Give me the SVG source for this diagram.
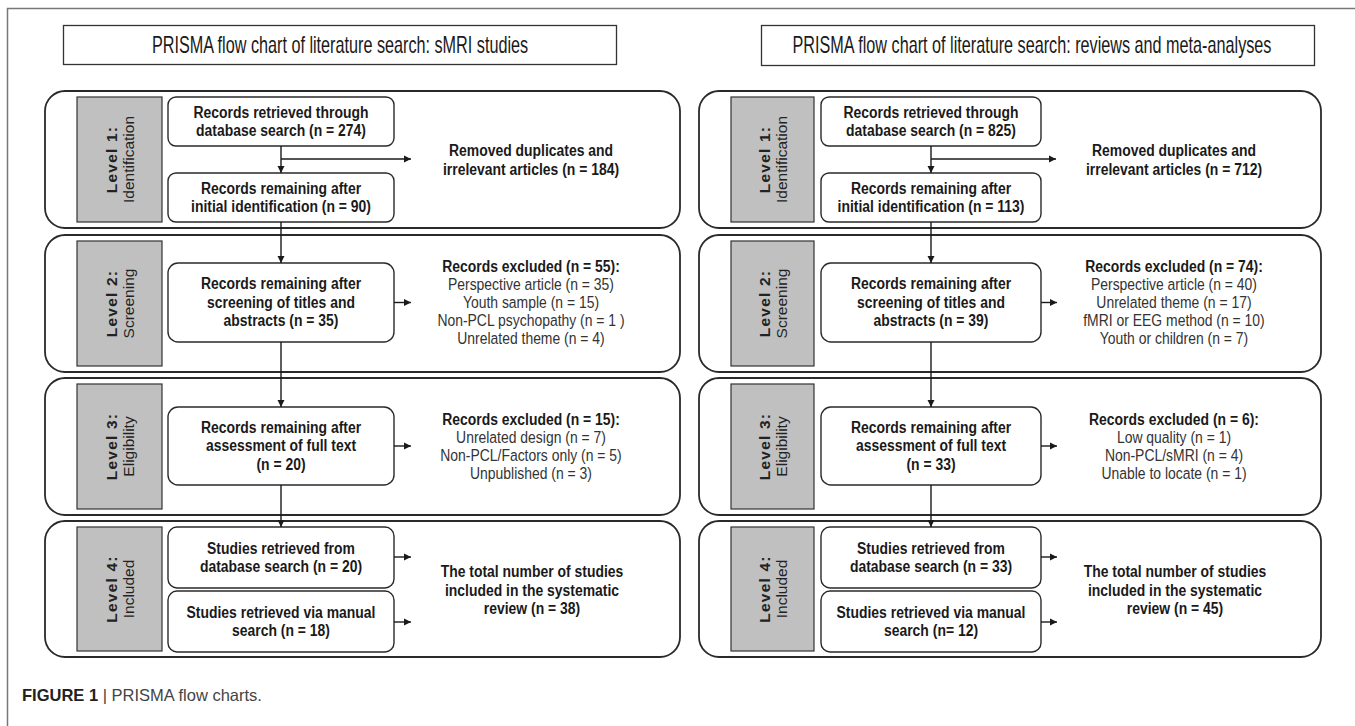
<svg xmlns="http://www.w3.org/2000/svg" width="1355" height="726" viewBox="0 0 1355 726">
<defs>
<style>
.frame{fill:none;stroke:#777;stroke-width:1.5}
.title{fill:#fff;stroke:#333;stroke-width:1.3}
.ttl{font-family:"Liberation Sans",Arial,sans-serif;font-size:23px;fill:#1a1a1a;text-anchor:middle;transform-box:fill-box;transform-origin:center;transform:scaleX(0.705)}
.lvl{fill:#fff;stroke:#2a2a2a;stroke-width:1.8}
.gray{fill:#c0c0c0;stroke:#333;stroke-width:1.2}
.node{fill:#fff;stroke:#2a2a2a;stroke-width:1.4}
.lab{font-family:"Liberation Sans",Arial,sans-serif;font-size:15.5px;fill:#222;text-anchor:middle}
.lab .b{font-weight:bold;letter-spacing:1.2px}
.nt{font-family:"Liberation Sans",Arial,sans-serif;font-weight:bold;font-size:17px;fill:#1a1a1a;text-anchor:middle;transform-box:fill-box;transform-origin:center;transform:scaleX(0.82)}
.et{font-family:"Liberation Sans",Arial,sans-serif;font-size:17px;fill:#333;text-anchor:middle;transform-box:fill-box;transform-origin:center;transform:scaleX(0.82)}
.conn{fill:none;stroke:#1a1a1a;stroke-width:1.4}
.cap{font-family:"Liberation Sans",Arial,sans-serif;font-size:16.5px;fill:#444}
</style>
<marker id="ah" markerUnits="userSpaceOnUse" markerWidth="8" markerHeight="8" refX="7" refY="4" orient="auto">
<path d="M0,0.5 L7,4 L0,7.5 z" fill="#1a1a1a"/>
</marker>
</defs>
<rect width="1355" height="726" fill="#fff"/>
<path class="frame" d="M7.5,726 V8.5 H1355"/>

<g id="title-left">
<rect class="title" x="63.5" y="25.5" width="553" height="39"/>
<text class="ttl" x="340" y="53">PRISMA flow chart of literature search: sMRI studies</text>
</g>
<g id="title-right">
<rect class="title" x="761.5" y="25.5" width="553" height="40"/>
<text class="ttl" x="1032" y="53.5">PRISMA flow chart of literature search: reviews and meta-analyses</text>
</g>

<!-- LEFT CHART -->
<g id="L-level1">
<rect class="lvl" x="45" y="91" width="635" height="137" rx="20"/>
<rect class="gray" x="77" y="97" width="85" height="125"/>
<g class="lab" transform="translate(119.5,159.5) rotate(-90)"><text class="b" x="0" y="-3">Level 1:</text><text x="0" y="14">Identification</text></g>
</g>
<g id="L-level2">
<rect class="lvl" x="45" y="235" width="635" height="137" rx="20"/>
<rect class="gray" x="77" y="241" width="85" height="125"/>
<g class="lab" transform="translate(119.5,303.5) rotate(-90)"><text class="b" x="0" y="-3">Level 2:</text><text x="0" y="14">Screening</text></g>
</g>
<g id="L-level3">
<rect class="lvl" x="45" y="378" width="635" height="137" rx="20"/>
<rect class="gray" x="77" y="384" width="85" height="125"/>
<g class="lab" transform="translate(119.5,446.5) rotate(-90)"><text class="b" x="0" y="-3">Level 3:</text><text x="0" y="14">Eligibility</text></g>
</g>
<g id="L-level4">
<rect class="lvl" x="45" y="521" width="635" height="136" rx="20"/>
<rect class="gray" x="77" y="527" width="85" height="124"/>
<g class="lab" transform="translate(119.5,589) rotate(-90)"><text class="b" x="0" y="-3">Level 4:</text><text x="0" y="14">Included</text></g>
</g>

<g id="L-n1"><rect class="node" x="168" y="97" width="226" height="49" rx="8"/>
<text class="nt" x="281" y="118">Records retrieved through</text><text class="nt" x="281" y="136.5">database search (n = 274)</text></g>
<g id="L-removed"><text class="nt" x="531" y="156.5">Removed duplicates and</text><text class="nt" x="531" y="175">irrelevant articles (n = 184)</text></g>
<g id="L-n2"><rect class="node" x="168" y="173" width="226" height="49" rx="8"/>
<text class="nt" x="281" y="194">Records remaining after</text><text class="nt" x="281" y="212.5">initial identification (n = 90)</text></g>
<g id="L-n3"><rect class="node" x="168" y="263" width="226" height="79" rx="10"/>
<text class="nt" x="281" y="289.5">Records remaining after</text><text class="nt" x="281" y="308">screening of titles and</text><text class="nt" x="281" y="326.5">abstracts (n = 35)</text></g>
<g id="L-excl2"><text class="nt" x="531" y="272.5">Records excluded (n = 55):</text>
<text class="et" x="531" y="290.5">Perspective article (n = 35)</text>
<text class="et" x="531" y="308.5">Youth sample  (n = 15)</text>
<text class="et" x="531" y="326.5">Non-PCL psychopathy (n = 1 )</text>
<text class="et" x="531" y="344.5">Unrelated theme (n = 4)</text></g>
<g id="L-n4"><rect class="node" x="168" y="407" width="226" height="78" rx="10"/>
<text class="nt" x="281" y="433">Records remaining after</text><text class="nt" x="281" y="451.5">assessment of full text</text><text class="nt" x="281" y="470">(n = 20)</text></g>
<g id="L-excl3"><text class="nt" x="531" y="425.5">Records excluded (n = 15):</text>
<text class="et" x="531" y="443.5">Unrelated design (n = 7)</text>
<text class="et" x="531" y="461.5">Non-PCL/Factors only (n = 5)</text>
<text class="et" x="531" y="479.5">Unpublished (n = 3)</text></g>
<g id="L-n5"><rect class="node" x="168" y="527" width="226" height="61" rx="9"/>
<text class="nt" x="281" y="554">Studies retrieved from</text><text class="nt" x="281" y="572.5">database search (n = 20)</text></g>
<g id="L-n6"><rect class="node" x="168" y="591" width="226" height="61" rx="9"/>
<text class="nt" x="281" y="618">Studies retrieved via manual</text><text class="nt" x="281" y="636.5">search (n = 18)</text></g>
<g id="L-total"><text class="nt" x="532" y="577.5">The total number of studies</text><text class="nt" x="532" y="596">included in the systematic</text><text class="nt" x="532" y="614.5">review (n = 38)</text></g>

<!-- RIGHT CHART -->
<g id="R-level1">
<rect class="lvl" x="699" y="91" width="622" height="137" rx="20"/>
<rect class="gray" x="731" y="97" width="83" height="125"/>
<g class="lab" transform="translate(772.5,159.5) rotate(-90)"><text class="b" x="0" y="-3">Level 1:</text><text x="0" y="14">Identification</text></g>
</g>
<g id="R-level2">
<rect class="lvl" x="699" y="235" width="622" height="137" rx="20"/>
<rect class="gray" x="731" y="241" width="83" height="125"/>
<g class="lab" transform="translate(772.5,303.5) rotate(-90)"><text class="b" x="0" y="-3">Level 2:</text><text x="0" y="14">Screening</text></g>
</g>
<g id="R-level3">
<rect class="lvl" x="699" y="378" width="622" height="137" rx="20"/>
<rect class="gray" x="731" y="384" width="83" height="125"/>
<g class="lab" transform="translate(772.5,446.5) rotate(-90)"><text class="b" x="0" y="-3">Level 3:</text><text x="0" y="14">Eligibility</text></g>
</g>
<g id="R-level4">
<rect class="lvl" x="699" y="521" width="622" height="136" rx="20"/>
<rect class="gray" x="731" y="527" width="83" height="124"/>
<g class="lab" transform="translate(772.5,589) rotate(-90)"><text class="b" x="0" y="-3">Level 4:</text><text x="0" y="14">Included</text></g>
</g>

<g id="R-n1"><rect class="node" x="821" y="97" width="220" height="49" rx="8"/>
<text class="nt" x="931" y="118">Records retrieved through</text><text class="nt" x="931" y="136.5">database search (n = 825)</text></g>
<g id="R-removed"><text class="nt" x="1174" y="156.5">Removed duplicates and</text><text class="nt" x="1174" y="175">irrelevant articles (n = 712)</text></g>
<g id="R-n2"><rect class="node" x="821" y="173" width="220" height="49" rx="8"/>
<text class="nt" x="931" y="194">Records remaining after</text><text class="nt" x="931" y="212.5">initial identification (n = 113)</text></g>
<g id="R-n3"><rect class="node" x="821" y="263" width="220" height="79" rx="10"/>
<text class="nt" x="931" y="289.5">Records remaining after</text><text class="nt" x="931" y="308">screening of titles and</text><text class="nt" x="931" y="326.5">abstracts (n = 39)</text></g>
<g id="R-excl2"><text class="nt" x="1174" y="272.5">Records excluded (n = 74):</text>
<text class="et" x="1174" y="290.5">Perspective article (n = 40)</text>
<text class="et" x="1174" y="308.5">Unrelated theme (n = 17)</text>
<text class="et" x="1174" y="326.5">fMRI or EEG method (n = 10)</text>
<text class="et" x="1174" y="344.5">Youth or children (n = 7)</text></g>
<g id="R-n4"><rect class="node" x="821" y="407" width="220" height="78" rx="10"/>
<text class="nt" x="931" y="433">Records remaining after</text><text class="nt" x="931" y="451.5">assessment of full text</text><text class="nt" x="931" y="470">(n = 33)</text></g>
<g id="R-excl3"><text class="nt" x="1174" y="425.5">Records excluded (n = 6):</text>
<text class="et" x="1174" y="443.5">Low quality (n = 1)</text>
<text class="et" x="1174" y="461.5">Non-PCL/sMRI (n = 4)</text>
<text class="et" x="1174" y="479.5">Unable to locate (n = 1)</text></g>
<g id="R-n5"><rect class="node" x="821" y="527" width="220" height="61" rx="9"/>
<text class="nt" x="931" y="554">Studies retrieved from</text><text class="nt" x="931" y="572.5">database search (n = 33)</text></g>
<g id="R-n6"><rect class="node" x="821" y="591" width="220" height="61" rx="9"/>
<text class="nt" x="931" y="618">Studies retrieved via manual</text><text class="nt" x="931" y="636.5">search (n= 12)</text></g>
<g id="R-total"><text class="nt" x="1175" y="577.5">The total number of studies</text><text class="nt" x="1175" y="596">included in the systematic</text><text class="nt" x="1175" y="614.5">review (n = 45)</text></g>

<g id="connectors">
<path class="conn" d="M281,146 V173" marker-end="url(#ah)"/>
<path class="conn" d="M281,159 H411" marker-end="url(#ah)"/>
<path class="conn" d="M281,222 V263" marker-end="url(#ah)"/>
<path class="conn" d="M394,302.5 H411" marker-end="url(#ah)"/>
<path class="conn" d="M281,342 V407" marker-end="url(#ah)"/>
<path class="conn" d="M394,446 H411" marker-end="url(#ah)"/>
<path class="conn" d="M281,485 V527" marker-end="url(#ah)"/>
<path class="conn" d="M394,557 H411" marker-end="url(#ah)"/>
<path class="conn" d="M394,622 H411" marker-end="url(#ah)"/>
<path class="conn" d="M931,146 V173" marker-end="url(#ah)"/>
<path class="conn" d="M931,159 H1056" marker-end="url(#ah)"/>
<path class="conn" d="M931,222 V263" marker-end="url(#ah)"/>
<path class="conn" d="M1041,302.5 H1057" marker-end="url(#ah)"/>
<path class="conn" d="M931,342 V407" marker-end="url(#ah)"/>
<path class="conn" d="M1041,446 H1057" marker-end="url(#ah)"/>
<path class="conn" d="M931,485 V527" marker-end="url(#ah)"/>
<path class="conn" d="M1041,557 H1057" marker-end="url(#ah)"/>
<path class="conn" d="M1041,622 H1057" marker-end="url(#ah)"/>
</g>

<g id="caption">
<text class="cap" x="22" y="701"><tspan font-weight="bold" fill="#222">FIGURE 1</tspan> | PRISMA flow charts.</text>
</g>
</svg>
